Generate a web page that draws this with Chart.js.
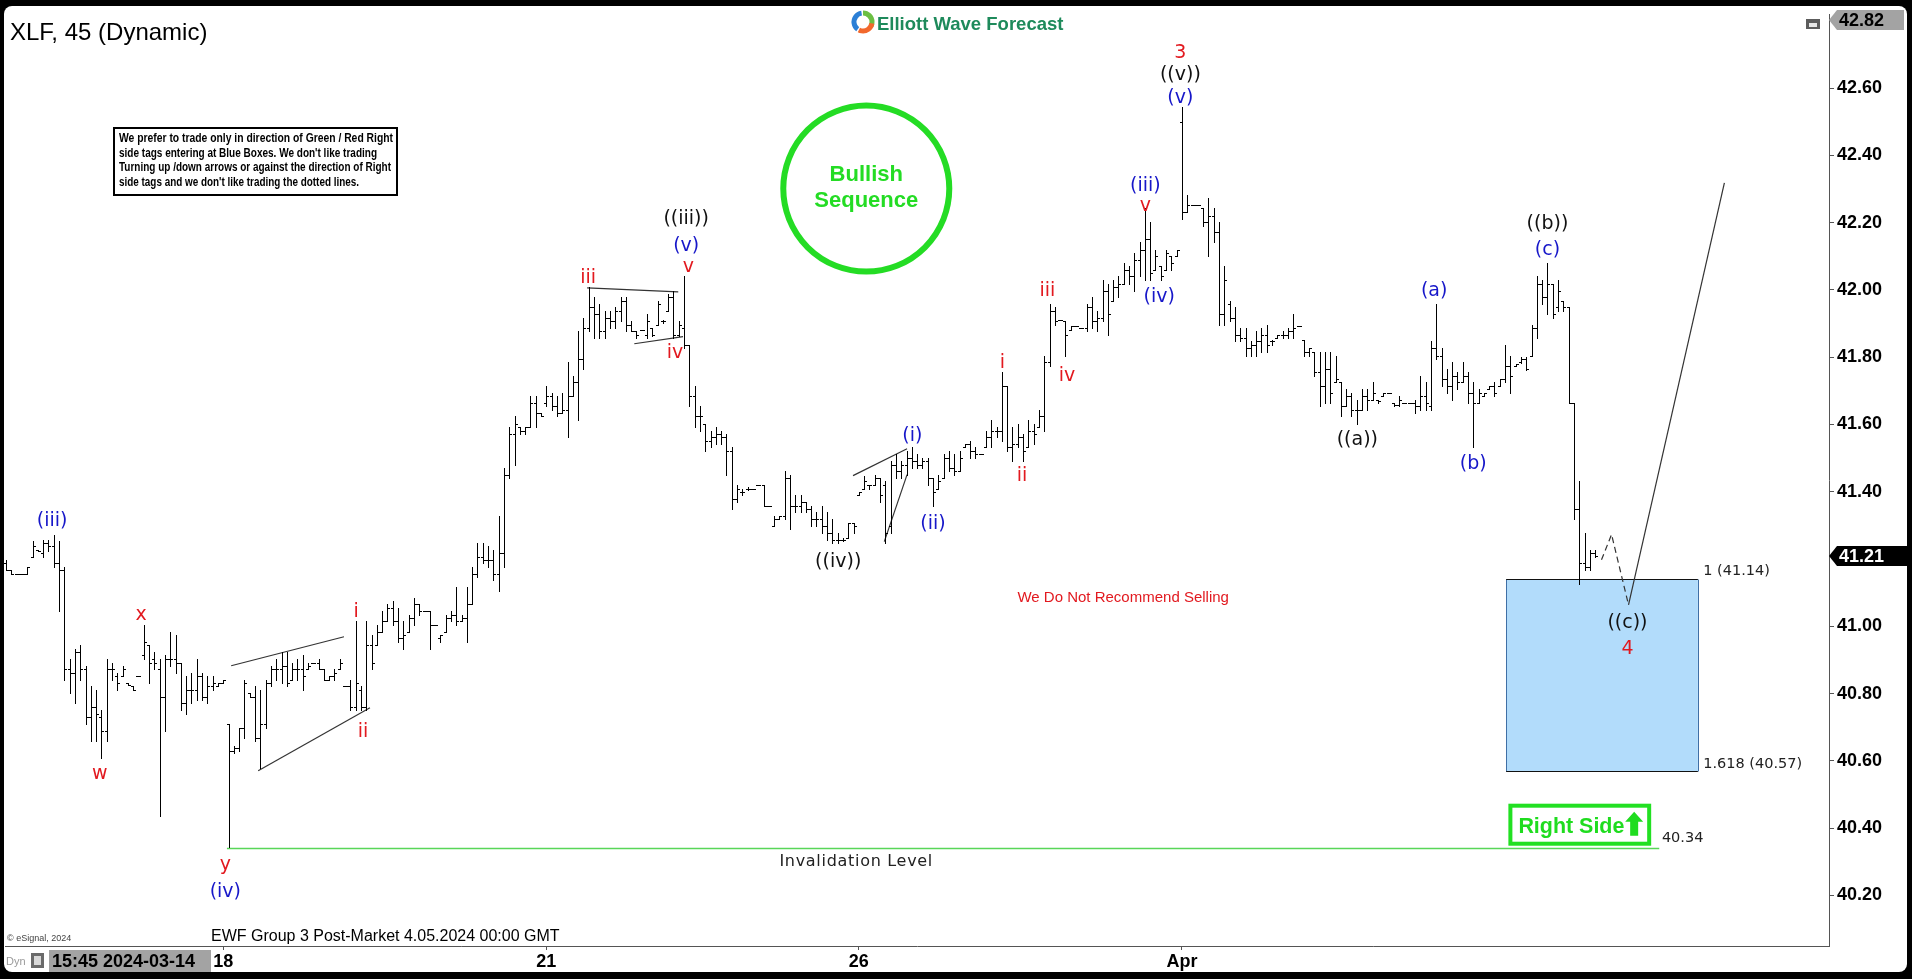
<!DOCTYPE html>
<html>
<head>
<meta charset="utf-8">
<title>XLF, 45 (Dynamic)</title>
<script src="https://cdn.jsdelivr.net/npm/chart.js@4.4.1/dist/chart.umd.min.js"></script>
<style>
  html, body { margin: 0; padding: 0; background: #000; overflow: hidden; }
  #wrap { width: 1912px; height: 979px; position: relative; }
</style>
</head>
<body>
<div id="wrap"><canvas id="chart"></canvas></div>
<script>
// 45 minute bars, 2024-03-14 15:45 -> 2024-04-04 (one entry per bar)
const highs = [
  41.197, 41.167, 41.157, 41.157, 41.177, 41.253, 41.228, 41.258, 41.258, 41.273,
  41.253, 41.177, 40.902, 40.934, 40.944, 40.882, 40.822, 40.812, 40.751, 40.902,
  40.892, 40.862, 40.882, 40.832, 40.822, 40.852, 41.004, 40.944, 40.924, 40.902,
  40.914, 40.984, 40.974, 40.892, 40.852, 40.862, 40.902, 40.862, 40.852, 40.852,
  40.832, 40.842, 40.711, 40.644, 40.699, 40.842, 40.801, 40.822, 40.812, 40.842,
  40.882, 40.902, 40.924, 40.924, 40.892, 40.902, 40.914, 40.892, 40.892, 40.902,
  40.872, 40.852, 40.872, 40.902, 40.822, 40.842, 41.015, 40.822, 41.015, 40.974,
  41.004, 41.045, 41.065, 41.075, 41.055, 41.015, 41.035, 41.085, 41.065, 41.045,
  41.045, 41.004, 40.974, 41.035, 41.045, 41.117, 41.035, 41.117, 41.177, 41.248,
  41.248, 41.238, 41.228, 41.329, 41.471, 41.592, 41.624, 41.592, 41.592, 41.684,
  41.684, 41.634, 41.714, 41.694, 41.684, 41.694, 41.785, 41.745, 41.877, 41.917,
  42.008, 41.978, 41.958, 41.938, 41.938, 41.948, 41.978, 41.978, 41.907, 41.877,
  41.882, 41.928, 41.887, 41.968, 41.912, 41.988, 41.998, 41.907, 42.040, 41.837,
  41.714, 41.654, 41.602, 41.582, 41.592, 41.582, 41.572, 41.532, 41.421, 41.409,
  41.414, 41.409, 41.421, 41.421, 41.359, 41.329, 41.329, 41.461, 41.451, 41.389,
  41.389, 41.369, 41.359, 41.339, 41.359, 41.339, 41.319, 41.278, 41.263, 41.308,
  41.308, 41.399, 41.446, 41.421, 41.451, 41.441, 41.431, 41.491, 41.511, 41.491,
  41.522, 41.532, 41.511, 41.501, 41.501, 41.441, 41.451, 41.511, 41.522, 41.511,
  41.522, 41.542, 41.552, 41.532, 41.511, 41.582, 41.612, 41.592, 41.755, 41.714,
  41.592, 41.602, 41.572, 41.612, 41.602, 41.644, 41.805, 41.958, 41.948, 41.912,
  41.907, 41.892, 41.892, 41.887, 41.958, 41.978, 41.938, 42.030, 42.018, 42.030,
  42.040, 42.080, 42.070, 42.110, 42.141, 42.243, 42.201, 42.120, 42.070, 42.120,
  42.100, 42.120, 42.545, 42.283, 42.253, 42.253, 42.243, 42.273, 42.243, 42.201,
  42.070, 41.968, 41.948, 41.887, 41.887, 41.847, 41.877, 41.887, 41.897, 41.852,
  41.867, 41.877, 41.887, 41.928, 41.892, 41.852, 41.826, 41.815, 41.815, 41.815,
  41.815, 41.805, 41.725, 41.704, 41.694, 41.674, 41.704, 41.704, 41.725, 41.674,
  41.694, 41.694, 41.664, 41.684, 41.664, 41.664, 41.674, 41.745, 41.725, 41.847,
  41.958, 41.826, 41.765, 41.785, 41.755, 41.785, 41.755, 41.725, 41.704, 41.694,
  41.714, 41.725, 41.735, 41.837, 41.805, 41.780, 41.802, 41.802, 41.897, 42.040,
  42.030, 42.080, 42.018, 42.030, 41.968, 41.948, 41.664, 41.431, 41.278, 41.228,
  41.228
];
const lows = [
  41.167, 41.157, 41.157, 41.157, 41.157, 41.207, 41.223, 41.207, 41.223, 41.177,
  41.045, 40.842, 40.801, 40.771, 40.842, 40.711, 40.659, 40.659, 40.609, 40.659,
  40.842, 40.812, 40.852, 40.827, 40.812, 40.852, 40.902, 40.832, 40.872, 40.436,
  40.689, 40.882, 40.862, 40.751, 40.741, 40.771, 40.781, 40.781, 40.771, 40.812,
  40.822, 40.832, 40.345, 40.624, 40.629, 40.669, 40.791, 40.659, 40.578, 40.699,
  40.822, 40.842, 40.832, 40.822, 40.842, 40.842, 40.812, 40.872, 40.892, 40.872,
  40.842, 40.842, 40.842, 40.872, 40.822, 40.751, 40.751, 40.751, 40.751, 40.872,
  40.944, 40.984, 41.015, 41.004, 40.954, 40.934, 40.984, 41.004, 41.035, 41.045,
  40.934, 41.004, 40.954, 40.984, 41.015, 41.004, 41.015, 40.954, 41.065, 41.147,
  41.187, 41.177, 41.137, 41.105, 41.177, 41.441, 41.481, 41.572, 41.572, 41.592,
  41.592, 41.624, 41.654, 41.644, 41.624, 41.634, 41.562, 41.684, 41.612, 41.765,
  41.877, 41.857, 41.857, 41.857, 41.887, 41.887, 41.907, 41.877, 41.877, 41.857,
  41.882, 41.857, 41.862, 41.897, 41.902, 41.938, 41.857, 41.862, 41.826, 41.654,
  41.592, 41.582, 41.522, 41.532, 41.542, 41.542, 41.451, 41.349, 41.369, 41.389,
  41.404, 41.409, 41.421, 41.359, 41.359, 41.298, 41.319, 41.319, 41.288, 41.339,
  41.339, 41.339, 41.298, 41.298, 41.278, 41.258, 41.248, 41.248, 41.253, 41.263,
  41.278, 41.389, 41.409, 41.409, 41.421, 41.369, 41.248, 41.278, 41.441, 41.441,
  41.451, 41.471, 41.471, 41.471, 41.421, 41.359, 41.409, 41.441, 41.461, 41.451,
  41.461, 41.532, 41.501, 41.501, 41.511, 41.532, 41.532, 41.562, 41.552, 41.522,
  41.491, 41.532, 41.491, 41.532, 41.542, 41.592, 41.582, 41.775, 41.897, 41.912,
  41.805, 41.882, 41.892, 41.887, 41.877, 41.887, 41.877, 41.907, 41.867, 41.968,
  41.978, 42.018, 42.018, 41.998, 42.040, 42.030, 42.030, 42.060, 42.030, 42.060,
  42.060, 42.100, 42.211, 42.233, 42.253, 42.253, 42.191, 42.100, 42.141, 41.897,
  41.897, 41.907, 41.847, 41.847, 41.805, 41.805, 41.805, 41.815, 41.815, 41.837,
  41.857, 41.857, 41.857, 41.857, 41.892, 41.805, 41.805, 41.745, 41.654, 41.664,
  41.664, 41.725, 41.624, 41.654, 41.624, 41.602, 41.644, 41.644, 41.674, 41.664,
  41.684, 41.694, 41.654, 41.654, 41.664, 41.664, 41.634, 41.644, 41.644, 41.644,
  41.795, 41.714, 41.694, 41.674, 41.704, 41.725, 41.664, 41.532, 41.664, 41.684,
  41.704, 41.684, 41.714, 41.725, 41.694, 41.775, 41.782, 41.763, 41.805, 41.857,
  41.958, 41.928, 41.917, 41.938, 41.938, 41.664, 41.319, 41.127, 41.167, 41.167,
  41.207
];
const opens = [
  41.187, 41.167, 41.157, 41.157, 41.157, 41.207, 41.228, 41.218, 41.248, 41.238,
  41.187, 41.167, 40.872, 40.862, 40.924, 40.872, 40.731, 40.761, 40.731, 40.689,
  40.872, 40.852, 40.852, 40.832, 40.822, 40.852, 40.914, 40.944, 40.902, 40.872,
  40.791, 40.902, 40.902, 40.892, 40.771, 40.812, 40.812, 40.852, 40.791, 40.822,
  40.822, 40.832, 40.711, 40.629, 40.639, 40.699, 40.801, 40.791, 40.669, 40.711,
  40.832, 40.872, 40.872, 40.882, 40.842, 40.872, 40.872, 40.872, 40.892, 40.892,
  40.872, 40.842, 40.852, 40.872, 40.822, 40.822, 40.761, 40.812, 40.761, 40.944,
  40.944, 40.984, 41.015, 41.055, 41.015, 40.964, 40.984, 41.025, 41.065, 41.045,
  41.045, 41.004, 40.964, 40.984, 41.025, 41.035, 41.015, 41.025, 41.065, 41.157,
  41.207, 41.197, 41.197, 41.157, 41.218, 41.451, 41.572, 41.592, 41.582, 41.592,
  41.664, 41.634, 41.664, 41.684, 41.654, 41.634, 41.644, 41.684, 41.725, 41.795,
  41.887, 41.948, 41.928, 41.877, 41.917, 41.907, 41.938, 41.968, 41.897, 41.877,
  41.882, 41.867, 41.887, 41.897, 41.907, 41.938, 41.978, 41.867, 41.887, 41.837,
  41.684, 41.624, 41.602, 41.552, 41.562, 41.572, 41.562, 41.522, 41.379, 41.399,
  41.409, 41.409, 41.421, 41.421, 41.359, 41.298, 41.319, 41.329, 41.441, 41.359,
  41.359, 41.369, 41.349, 41.319, 41.319, 41.298, 41.278, 41.258, 41.258, 41.263,
  41.308, 41.389, 41.409, 41.421, 41.421, 41.441, 41.421, 41.298, 41.481, 41.461,
  41.481, 41.501, 41.491, 41.481, 41.491, 41.441, 41.409, 41.441, 41.501, 41.471,
  41.461, 41.532, 41.542, 41.522, 41.511, 41.532, 41.562, 41.582, 41.582, 41.714,
  41.532, 41.542, 41.562, 41.532, 41.582, 41.592, 41.624, 41.785, 41.938, 41.912,
  41.907, 41.882, 41.892, 41.887, 41.887, 41.948, 41.907, 41.917, 41.998, 41.968,
  42.008, 42.018, 42.060, 42.040, 42.090, 42.120, 42.151, 42.060, 42.070, 42.060,
  42.100, 42.100, 42.500, 42.233, 42.253, 42.253, 42.243, 42.201, 42.221, 42.171,
  41.928, 41.958, 41.917, 41.867, 41.857, 41.826, 41.837, 41.847, 41.867, 41.847,
  41.857, 41.867, 41.867, 41.877, 41.892, 41.852, 41.815, 41.815, 41.755, 41.714,
  41.765, 41.725, 41.725, 41.654, 41.684, 41.644, 41.644, 41.684, 41.674, 41.674,
  41.684, 41.694, 41.664, 41.659, 41.664, 41.664, 41.664, 41.654, 41.684, 41.654,
  41.826, 41.805, 41.735, 41.714, 41.745, 41.725, 41.745, 41.694, 41.664, 41.684,
  41.704, 41.714, 41.714, 41.735, 41.775, 41.775, 41.785, 41.795, 41.805, 41.887,
  42.018, 41.978, 42.018, 41.948, 41.968, 41.948, 41.664, 41.349, 41.187, 41.177,
  41.218
];
const closes = [
  41.167, 41.157, 41.157, 41.157, 41.177, 41.238, 41.223, 41.248, 41.238, 41.187,
  41.167, 40.872, 40.862, 40.924, 40.872, 40.731, 40.761, 40.741, 40.689, 40.872,
  40.872, 40.832, 40.872, 40.827, 40.812, 40.852, 40.954, 40.892, 40.892, 40.791,
  40.902, 40.902, 40.892, 40.771, 40.812, 40.812, 40.852, 40.791, 40.822, 40.832,
  40.832, 40.842, 40.629, 40.639, 40.699, 40.832, 40.791, 40.669, 40.711, 40.832,
  40.872, 40.872, 40.882, 40.832, 40.872, 40.872, 40.852, 40.882, 40.892, 40.872,
  40.842, 40.852, 40.862, 40.892, 40.822, 40.761, 40.832, 40.761, 40.944, 40.892,
  40.984, 41.015, 41.055, 41.015, 40.964, 40.974, 41.025, 41.065, 41.045, 41.045,
  41.004, 41.004, 40.974, 41.025, 41.035, 41.015, 41.025, 41.065, 41.157, 41.207,
  41.197, 41.197, 41.157, 41.218, 41.451, 41.572, 41.602, 41.582, 41.592, 41.664,
  41.634, 41.624, 41.684, 41.654, 41.634, 41.644, 41.684, 41.725, 41.795, 41.887,
  41.948, 41.928, 41.877, 41.917, 41.907, 41.938, 41.968, 41.897, 41.877, 41.867,
  41.882, 41.907, 41.867, 41.958, 41.907, 41.978, 41.867, 41.897, 41.837, 41.684,
  41.624, 41.624, 41.552, 41.562, 41.572, 41.562, 41.522, 41.379, 41.409, 41.399,
  41.409, 41.409, 41.421, 41.359, 41.359, 41.319, 41.329, 41.441, 41.359, 41.359,
  41.369, 41.349, 41.319, 41.319, 41.298, 41.278, 41.258, 41.258, 41.258, 41.308,
  41.298, 41.399, 41.431, 41.421, 41.441, 41.389, 41.278, 41.481, 41.461, 41.481,
  41.501, 41.491, 41.481, 41.491, 41.441, 41.399, 41.431, 41.501, 41.471, 41.461,
  41.501, 41.542, 41.522, 41.511, 41.511, 41.562, 41.582, 41.582, 41.714, 41.532,
  41.542, 41.562, 41.522, 41.582, 41.572, 41.624, 41.785, 41.938, 41.907, 41.912,
  41.867, 41.892, 41.892, 41.887, 41.948, 41.907, 41.917, 41.998, 41.928, 42.008,
  42.018, 42.060, 42.040, 42.090, 42.120, 42.151, 42.050, 42.100, 42.040, 42.110,
  42.080, 42.120, 42.233, 42.253, 42.253, 42.253, 42.201, 42.221, 42.171, 41.928,
  42.030, 41.917, 41.867, 41.857, 41.826, 41.837, 41.847, 41.867, 41.837, 41.847,
  41.867, 41.867, 41.877, 41.887, 41.892, 41.815, 41.826, 41.755, 41.714, 41.765,
  41.694, 41.735, 41.654, 41.684, 41.644, 41.644, 41.684, 41.674, 41.694, 41.669,
  41.694, 41.694, 41.659, 41.674, 41.664, 41.664, 41.654, 41.684, 41.664, 41.826,
  41.805, 41.735, 41.714, 41.745, 41.725, 41.745, 41.694, 41.664, 41.694, 41.694,
  41.714, 41.694, 41.735, 41.775, 41.745, 41.780, 41.795, 41.765, 41.887, 42.018,
  41.978, 42.018, 41.928, 41.998, 41.948, 41.664, 41.349, 41.187, 41.177, 41.218,
  41.21
];

// time axis: bar index of each day label
const dayTicks = [41, 102, 161, 222];
const dayLabels = ['18', '21', '26', 'Apr'];
const priceTicks = [40.2, 40.4, 40.6, 40.8, 41.0, 41.4, 41.6, 41.8, 42.0, 42.2, 42.4, 42.6];
const lastPrice = 41.21;
const topPrice = 42.82;
const invalidation = 40.34;
const boxTop = 41.14;    // 1.000 extension
const boxBottom = 40.57; // 1.618 extension

// wave labels: text, bar index, price, colour key
const waveLabels = [
  ['(iii)', 8.7, 41.320, 'b'], ['x', 25.5, 41.041, 'r'], ['w', 17.7, 40.568, 'r'],
  ['y', 41.4, 40.298, 'r'], ['(iv)', 41.4, 40.218, 'b'],
  ['i', 66.1, 41.050, 'r'], ['ii', 67.4, 40.693, 'r'],
  ['iii', 109.9, 42.042, 'r'], ['((iii))', 128.4, 42.218, 'k'], ['(v)', 128.4, 42.137, 'b'],
  ['v', 128.8, 42.075, 'r'], ['iv', 126.3, 41.819, 'r'],
  ['((iv))', 157.1, 41.198, 'k'], ['(i)', 171.1, 41.573, 'b'], ['(ii)', 175.0, 41.311, 'b'],
  ['i', 188.1, 41.790, 'r'], ['ii', 191.8, 41.454, 'r'], ['iii', 196.6, 42.004, 'r'],
  ['iv', 200.3, 41.751, 'r'], ['(iii)', 215.1, 42.316, 'b'], ['v', 215.1, 42.256, 'r'],
  ['(iv)', 217.7, 41.986, 'b'],
  ['3', 221.7, 42.711, 'r'], ['((v))', 221.7, 42.645, 'k'], ['(v)', 221.7, 42.577, 'b'],
  ['((a))', 255.1, 41.561, 'k'], ['(a)', 269.6, 42.004, 'b'], ['(b)', 277.0, 41.489, 'b'],
  ['((b))', 291.0, 42.203, 'k'], ['(c)', 291.0, 42.126, 'b'],
  ['((c))', 306.1, 41.017, 'k'], ['4', 306.1, 40.940, 'r']
];
const labelColors = { b: '#1717c9', r: '#e2191f', k: '#111111' };

// drawn lines: diagonals / triangle and the projected path
const diagonalLines = [
  [[42.5, 40.883], [63.8, 40.969]],
  [[47.6, 40.571], [68.7, 40.758]],
  [[109.7, 42.006], [126.9, 41.994]],
  [[118.6, 41.840], [127.8, 41.861]],
  [[159.9, 41.448], [170.1, 41.528]],
  [[165.8, 41.252], [170.1, 41.451]]
];
const projDashed = [[301.2, 41.198], [303.1, 41.273], [306.3, 41.064]];
const projSolid = [[306.3, 41.064], [324.4, 42.318]];

const ohlcData = highs.map((h, i) => ({ x: i, y: [lows[i], h] }));
const toPts = arr => arr.map(p => ({ x: p[0], y: p[1] }));

const lineSet = (pts, color, width, dash) => ({
  type: 'line', data: toPts(pts), borderColor: color, borderWidth: width,
  borderDash: dash || [], pointRadius: 0, fill: false, tension: 0
});

// Custom drawing of the OHLC bars (crisp 1px lines + open/close ticks)
const ohlcPlugin = {
  id: 'ohlc',
  beforeDatasetDraw(chart, args) {
    if (args.index !== 0) return;
    const { ctx } = chart;
    const y = chart.scales.y;
    ctx.save();
    ctx.strokeStyle = '#000';
    ctx.lineWidth = 1;
    ctx.beginPath();
    args.meta.data.forEach((bar, i) => {
      const xi = Math.round(bar.x);
      const top = Math.round(Math.min(bar.y, bar.base));
      const bot = Math.round(Math.max(bar.y, bar.base));
      ctx.moveTo(xi + 0.5, top);
      ctx.lineTo(xi + 0.5, bot + 1);
      const yo = Math.round(y.getPixelForValue(opens[i])) + 0.5;
      const yc = Math.round(y.getPixelForValue(closes[i])) + 0.5;
      ctx.moveTo(xi - 2, yo); ctx.lineTo(xi + 1, yo);
      ctx.moveTo(xi, yc); ctx.lineTo(xi + 3, yc);
    });
    ctx.stroke();
    ctx.restore();
    return false;
  }
};

const decorPlugin = {
  id: 'decor',
  beforeDraw(chart) {
    const { ctx, width, height } = chart;
    ctx.save();
    ctx.fillStyle = '#000';
    ctx.fillRect(0, 0, width, height);
    ctx.fillStyle = '#fff';
    ctx.beginPath();
    ctx.roundRect(4, 6, 1903, 966, 8);
    ctx.fill();
    ctx.restore();
  },
  beforeDatasetsDraw(chart) {
    const { ctx } = chart;
    const x = chart.scales.x, y = chart.scales.y;
    const l = x.getPixelForValue(283.2), r = x.getPixelForValue(319.4);
    const t = Math.round(y.getPixelForValue(boxTop)) + 0.5;
    const b = Math.round(y.getPixelForValue(boxBottom)) + 0.5;
    ctx.save();
    ctx.fillStyle = '#b2dcfb';
    ctx.fillRect(l, t, r - l, b - t);
    ctx.strokeStyle = '#3f6fa6';
    ctx.lineWidth = 1;
    ctx.beginPath();
    ctx.moveTo(Math.round(l) + 0.5, t); ctx.lineTo(Math.round(l) + 0.5, b);
    ctx.moveTo(Math.round(r) + 0.5, t); ctx.lineTo(Math.round(r) + 0.5, b);
    ctx.stroke();
    ctx.strokeStyle = '#111';
    ctx.beginPath();
    ctx.moveTo(l, t); ctx.lineTo(r, t);
    ctx.moveTo(l, b); ctx.lineTo(r, b);
    ctx.stroke();
    ctx.restore();
  },
  afterDatasetsDraw(chart) {
    const { ctx } = chart;
    const x = chart.scales.x, y = chart.scales.y;
    const px = v => x.getPixelForValue(v), py = v => y.getPixelForValue(v);
    ctx.save();

    // wave labels (glyphs sit slightly below the em-box middle)
    ctx.textAlign = 'center';
    ctx.textBaseline = 'middle';
    ctx.font = '19px "DejaVu Sans", Verdana, sans-serif';
    waveLabels.forEach(([txt, xi, pv, c]) => {
      ctx.fillStyle = labelColors[c];
      ctx.fillText(txt, px(xi), py(pv) + 2.5);
    });

    // Bullish Sequence circle
    const cx = px(162.4), cy = py(42.301);
    ctx.strokeStyle = '#24dc24';
    ctx.lineWidth = 6;
    ctx.beginPath();
    ctx.arc(cx, cy, 83, 0, Math.PI * 2);
    ctx.stroke();
    ctx.fillStyle = '#24dc24';
    ctx.font = 'bold 22px "Liberation Sans", Arial, sans-serif';
    ctx.textBaseline = 'alphabetic';
    ctx.fillText('Bullish', cx, cy - 8);
    ctx.fillText('Sequence', cx, cy + 18);

    // notes on the chart
    ctx.font = '15px "Liberation Sans", Arial, sans-serif';
    ctx.fillStyle = '#e2191f';
    ctx.textBaseline = 'middle';
    ctx.fillText('We Do Not Recommend Selling', px(210.9), py(41.085), 212);
    ctx.fillStyle = '#222';
    ctx.font = '16px "DejaVu Sans", Verdana, sans-serif';
    ctx.letterSpacing = '0.7px';
    ctx.fillText('Invalidation Level', px(160.5), py(40.301), 158);
    ctx.letterSpacing = '0px';

    ctx.textAlign = 'left';
    ctx.fillStyle = '#222';
    ctx.font = '14.5px "DejaVu Sans", Verdana, sans-serif';
    ctx.fillText('1 (' + boxTop.toFixed(2) + ')', px(320.4), py(41.165));
    ctx.fillText('1.618 (' + boxBottom.toFixed(2) + ')', px(320.4), py(40.589));
    ctx.fillText(invalidation.toFixed(2), px(312.6), py(40.369));

    // Right Side tag
    const rl = px(284.0), rr = px(310.2), rt = py(40.467), rb = py(40.354);
    ctx.strokeStyle = '#22e022';
    ctx.lineWidth = 4;
    ctx.strokeRect(rl, rt, rr - rl, rb - rt);
    ctx.fillStyle = '#1fdc1f';
    ctx.font = 'bold 22px "Liberation Sans", Arial, sans-serif';
    ctx.textBaseline = 'alphabetic';
    ctx.fillText('Right Side', rl + 8, rb - 11, 106);
    const ax = rr - 15, at = rt + 6, ab = rb - 8;
    ctx.beginPath();
    ctx.moveTo(ax, at);
    ctx.lineTo(ax + 9, at + 10);
    ctx.lineTo(ax + 4, at + 10);
    ctx.lineTo(ax + 4, ab);
    ctx.lineTo(ax - 4, ab);
    ctx.lineTo(ax - 4, at + 10);
    ctx.lineTo(ax - 9, at + 10);
    ctx.closePath();
    ctx.fill();

    ctx.restore();
  },
  afterDraw(chart) {
    const { ctx } = chart;
    const y = chart.scales.y;
    const area = chart.chartArea;
    ctx.save();

    // title
    ctx.fillStyle = '#000';
    ctx.textAlign = 'left';
    ctx.textBaseline = 'alphabetic';
    ctx.font = '24px "Liberation Sans", Arial, sans-serif';
    ctx.fillText('XLF, 45 (Dynamic)', 10, 40);

    // logo
    const lx = 863, ly = 22;
    [['#2b7fd6', Math.PI * 0.7, Math.PI * 1.45], ['#6bbf43', Math.PI * 1.5, Math.PI * 2.15],
     ['#f2682c', Math.PI * 0.05, Math.PI * 0.65]].forEach(([c, a0, a1]) => {
      ctx.strokeStyle = c; ctx.lineWidth = 5;
      ctx.beginPath(); ctx.arc(lx, ly, 9, a0, a1); ctx.stroke();
    });
    ctx.fillStyle = '#1e8a5b';
    ctx.font = 'bold 18.5px "Liberation Sans", Arial, sans-serif';
    ctx.fillText('Elliott Wave Forecast', 877, 29.5);

    // disclaimer box
    ctx.fillStyle = '#fff';
    ctx.fillRect(114, 128, 283, 67);
    ctx.strokeStyle = '#000';
    ctx.lineWidth = 2;
    ctx.strokeRect(114, 128, 283, 67);
    ctx.fillStyle = '#000';
    ctx.font = 'bold 12px "Liberation Sans", Arial, sans-serif';
    const notes = [
      ['We prefer to trade only in direction of Green / Red Right', 142, 274],
      ["side tags entering at Blue Boxes. We don't like trading", 157, 258],
      ['Turning up /down arrows or against the direction of Right', 171, 272],
      ["side tags and we don't like trading the dotted lines.", 186, 240]
    ];
    notes.forEach(([t, by, w]) => ctx.fillText(t, 119, by, w));

    // footer texts
    ctx.font = '16px "Liberation Sans", Arial, sans-serif';
    ctx.fillText('EWF Group 3 Post-Market 4.05.2024 00:00 GMT', 211, 941, 378);
    ctx.fillStyle = '#444';
    ctx.font = '9px "Liberation Sans", Arial, sans-serif';
    ctx.fillText('\u00a9 eSignal, 2024', 7, 941);

    // time read-out box
    ctx.fillStyle = '#a3a3a3';
    ctx.fillRect(49, 950, 162, 22);
    ctx.fillStyle = '#000';
    ctx.font = 'bold 18px "Liberation Sans", Arial, sans-serif';
    ctx.textBaseline = 'middle';
    ctx.fillText('15:45 2024-03-14', 52, 962, 156);
    ctx.fillStyle = '#9a9a9a';
    ctx.font = '11px "Liberation Sans", Arial, sans-serif';
    ctx.fillText('Dyn', 6, 962);
    ctx.fillStyle = '#6a6a6a';
    ctx.fillRect(31, 953, 13, 15);
    ctx.fillStyle = '#d8d8d8';
    ctx.fillRect(34, 956, 7, 9);

    // window icon top right
    ctx.fillStyle = '#5c5c5c';
    ctx.fillRect(1806, 19, 14, 10);
    ctx.fillStyle = '#e6e6e6';
    ctx.fillRect(1809, 23, 8, 4);

    // price tags on the axis
    const tag = (yc, bg, fg, txt, right) => {
      ctx.fillStyle = bg;
      ctx.beginPath();
      ctx.moveTo(area.right, yc);
      ctx.lineTo(area.right + 8, yc - 10);
      ctx.lineTo(right, yc - 10);
      ctx.lineTo(right, yc + 10);
      ctx.lineTo(area.right + 8, yc + 10);
      ctx.closePath();
      ctx.fill();
      ctx.fillStyle = fg;
      ctx.font = 'bold 18px "Liberation Sans", Arial, sans-serif';
      ctx.textBaseline = 'middle';
      ctx.textAlign = 'left';
      ctx.fillText(txt, area.right + 10, yc + 1);
    };
    tag(Math.round(y.getPixelForValue(lastPrice)), '#000', '#fff', lastPrice.toFixed(2), 1912);
    tag(area.top + 6, '#a3a3a3', '#000', topPrice.toFixed(2), 1904);

    ctx.restore();
  }
};

const axisFont = { family: '"Liberation Sans", Arial, sans-serif', size: 18, weight: 'bold' };

new Chart(document.getElementById('chart'), {
  type: 'bar',
  data: {
    datasets: [
      { type: 'bar', label: 'XLF', data: ohlcData, backgroundColor: '#000', barThickness: 1 },
      lineSet([[41.7, invalidation], [312.1, invalidation]], '#58d658', 1.5),
      ...diagonalLines.map(seg => lineSet(seg, '#333', 1.2)),
      lineSet(projDashed, '#333', 1.2, [6, 4]),
      lineSet(projSolid, '#333', 1.2)
    ]
  },
  options: {
    responsive: true,
    maintainAspectRatio: false,
    animation: false,
    events: [],
    layout: { padding: { left: 5, top: 14, right: 0, bottom: 0 } },
    plugins: { legend: { display: false }, tooltip: { enabled: false } },
    scales: {
      x: {
        type: 'linear', min: -0.2, max: 344.15, offset: false,
        afterBuildTicks: s => { s.ticks = dayTicks.map(v => ({ value: v })); },
        afterFit: s => { s.height = 33; s.paddingLeft = 0; s.paddingRight = 0; },
        border: { display: true, color: '#555', width: 1 },
        grid: { drawOnChartArea: false, offset: false, tickLength: 4, color: '#555' },
        ticks: {
          autoSkip: false, maxRotation: 0, padding: 1, color: '#000', font: axisFont,
          callback: (v, i) => dayLabels[i]
        }
      },
      y: {
        position: 'right', min: 40.05, max: topPrice,
        afterBuildTicks: s => { s.ticks = priceTicks.map(v => ({ value: v })); },
        afterFit: s => { s.width = 83; s.paddingTop = 0; s.paddingBottom = 0; },
        border: { display: true, color: '#555', width: 1 },
        grid: { drawOnChartArea: false, tickLength: 5, color: '#555' },
        ticks: { padding: 3, color: '#000', font: axisFont, callback: v => Number(v).toFixed(2) }
      }
    }
  },
  plugins: [ohlcPlugin, decorPlugin]
});
</script>
</body>
</html>
